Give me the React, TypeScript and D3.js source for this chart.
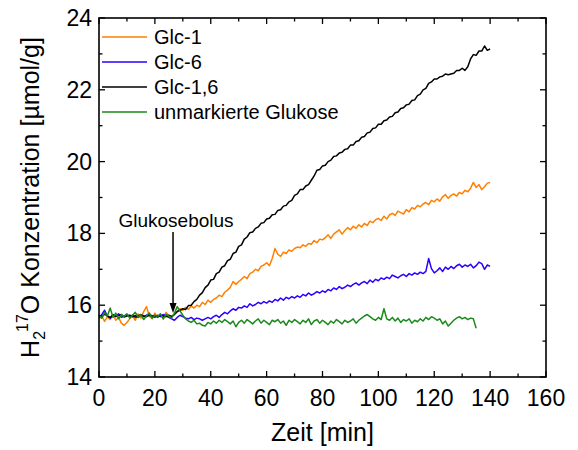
import { useMemo } from "react";
import * as d3 from "d3";

// sampling time in minutes (one value per minute)
const glc1 = [
  15.62, 15.70, 15.55, 15.68, 15.60, 15.74, 15.58, 15.66, 15.50, 15.44,
  15.52, 15.62, 15.70, 15.58, 15.76, 15.64, 15.82, 15.96, 15.70, 15.62,
  15.78, 15.66, 15.74, 15.62, 15.80, 15.70, 15.68, 15.76, 15.84, 15.90,
  15.86, 15.94, 15.88, 15.98, 15.92, 16.00, 15.96, 16.08, 16.02, 16.14,
  16.08, 16.16, 16.20, 16.28, 16.24, 16.36, 16.42, 16.50, 16.66, 16.58,
  16.66, 16.72, 16.80, 16.74, 16.88, 16.92, 17.00, 16.96, 17.08, 17.12,
  17.18, 17.10, 17.30, 17.58, 17.42, 17.36, 17.48, 17.44, 17.54, 17.50,
  17.58, 17.62, 17.60, 17.68, 17.64, 17.72, 17.70, 17.80, 17.74, 17.84,
  17.82, 17.88, 17.96, 17.86, 17.98, 18.04, 18.10, 17.98, 18.08, 18.16,
  18.10, 18.20, 18.14, 18.24, 18.18, 18.28, 18.22, 18.34, 18.30, 18.38,
  18.42, 18.36, 18.48, 18.40, 18.52, 18.56, 18.50, 18.62, 18.58, 18.54,
  18.66, 18.60, 18.72, 18.68, 18.78, 18.74, 18.82, 18.86, 18.80, 18.92,
  18.88, 18.96, 18.90, 19.02, 19.08, 18.98, 19.06, 19.10, 19.04, 19.14,
  19.10, 19.20, 19.16, 19.26, 19.42, 19.28, 19.36, 19.22, 19.30, 19.40, 19.42,
];

const glc6 = [
  15.66, 15.74, 15.86, 15.70, 15.64, 15.72, 15.68, 15.76, 15.66, 15.70,
  15.74, 15.68, 15.72, 15.66, 15.70, 15.74, 15.68, 15.72, 15.76, 15.70,
  15.66, 15.72, 15.68, 15.74, 15.70, 15.66, 15.62, 15.58, 15.66, 15.72,
  15.68, 15.64, 15.62, 15.66, 15.60, 15.64, 15.62, 15.58, 15.62, 15.66,
  15.62, 15.68, 15.72, 15.66, 15.74, 15.80, 15.76, 15.84, 15.90, 15.86,
  15.94, 15.92, 15.98, 15.94, 16.04, 15.98, 16.02, 16.08, 16.04, 16.10,
  16.06, 16.12, 16.08, 16.16, 16.12, 16.20, 16.14, 16.22, 16.18, 16.24,
  16.20, 16.26, 16.22, 16.30, 16.26, 16.34, 16.28, 16.32, 16.38, 16.34,
  16.40, 16.36, 16.44, 16.40, 16.48, 16.44, 16.52, 16.46, 16.50, 16.56,
  16.52, 16.58, 16.62, 16.56, 16.62, 16.66, 16.60, 16.70, 16.64, 16.72,
  16.68, 16.76, 16.72, 16.78, 16.74, 16.84, 16.80, 16.76, 16.82, 16.86,
  16.80, 16.88, 16.84, 16.90, 16.86, 16.92, 16.88, 16.94, 17.30, 17.02,
  16.90, 16.96, 17.04, 16.94, 17.06, 17.00, 17.08, 17.02, 17.10, 17.14,
  17.06, 17.12, 17.08, 17.14, 17.04, 17.10, 17.20, 17.16, 17.00, 17.12, 17.08,
];

const glc16 = [
  15.72, 15.68, 15.75, 15.70, 15.66, 15.73, 15.69, 15.71, 15.74, 15.67,
  15.70, 15.72, 15.68, 15.71, 15.66, 15.73, 15.70, 15.68, 15.72, 15.69,
  15.71, 15.67, 15.73, 15.70, 15.68, 15.72, 15.69, 15.74, 15.82, 15.86,
  15.90, 15.88, 15.99, 16.00, 16.10, 16.16, 16.28, 16.35, 16.49, 16.56,
  16.70, 16.72, 16.88, 16.92, 17.06, 17.10, 17.24, 17.28, 17.44, 17.48,
  17.64, 17.68, 17.84, 17.90, 18.02, 18.04, 18.14, 18.18, 18.28, 18.30,
  18.40, 18.42, 18.52, 18.53, 18.64, 18.66, 18.76, 18.78, 18.88, 18.92,
  19.06, 19.10, 19.22, 19.22, 19.32, 19.36, 19.48, 19.60, 19.76, 19.78,
  19.88, 19.90, 20.00, 20.04, 20.14, 20.16, 20.24, 20.26, 20.34, 20.36,
  20.46, 20.46, 20.56, 20.58, 20.68, 20.70, 20.80, 20.82, 20.92, 20.94,
  21.04, 21.04, 21.14, 21.16, 21.24, 21.26, 21.36, 21.38, 21.48, 21.50,
  21.58, 21.60, 21.70, 21.72, 21.84, 21.88, 22.00, 22.04, 22.18, 22.22,
  22.30, 22.30, 22.36, 22.38, 22.44, 22.42, 22.44, 22.46, 22.54, 22.54,
  22.60, 22.54, 22.64, 22.86, 22.98, 22.96, 23.08, 23.08, 23.22, 23.10, 23.14,
];

const unmarkiert = [
  15.72, 15.64, 15.80, 15.70, 15.92, 15.66, 15.78, 15.62, 15.74, 15.68,
  15.76, 15.64, 15.72, 15.80, 15.66, 15.74, 15.60, 15.70, 15.78, 15.64,
  15.72, 15.68, 15.76, 15.62, 15.74, 15.70, 15.64, 15.78, 15.96, 15.84,
  15.72, 15.62, 15.56, 15.52, 15.58, 15.48, 15.50, 15.44, 15.42, 15.52,
  15.48, 15.56, 15.50, 15.58, 15.52, 15.60, 15.54, 15.48, 15.56, 15.40,
  15.52, 15.58, 15.50, 15.60, 15.54, 15.48, 15.56, 15.62, 15.50, 15.58,
  15.52, 15.46, 15.58, 15.54, 15.60, 15.50, 15.56, 15.44, 15.58, 15.52,
  15.60, 15.54, 15.48, 15.58, 15.52, 15.62, 15.46, 15.56, 15.60, 15.50,
  15.58, 15.52, 15.46, 15.56, 15.50, 15.60, 15.54, 15.48, 15.58, 15.52,
  15.56, 15.62, 15.50, 15.58, 15.64, 15.70, 15.74, 15.68, 15.62, 15.58,
  15.66, 15.60, 15.90, 15.62, 15.58, 15.66, 15.56, 15.64, 15.52, 15.60,
  15.56, 15.62, 15.50, 15.58, 15.54, 15.62, 15.56, 15.66, 15.60, 15.68,
  15.64, 15.58, 15.62, 15.48, 15.56, 15.42, 15.50, 15.58, 15.64, 15.68,
  15.62, 15.66, 15.60, 15.64, 15.62, 15.36,
];

const seriesNames = ["Glc-1", "Glc-6", "Glc-1,6", "unmarkierte Glukose"];
const seriesColors = ["#ff8000", "#2a00ff", "#000000", "#1a8a1a"];
const seriesValues = [glc1, glc6, glc16, unmarkiert];

const xTicks = [0, 20, 40, 60, 80, 100, 120, 140, 160];
const yTicks = [14, 16, 18, 20, 22, 24];
const bolusTime = 26.5;

const font = "'Liberation Sans', Arial, sans-serif";

export default function App() {
  const W = 578, H = 450;
  const m = { left: 99, right: 32, top: 18, bottom: 73 };

  const x = d3.scaleLinear().domain([0, 160]).range([m.left, W - m.right]);
  const y = d3.scaleLinear().domain([14, 24]).range([H - m.bottom, m.top]);

  const paths = useMemo(() => seriesValues.map(vals =>
    d3.line<number>().x((_, i) => x(i)).y(v => y(v))(vals) || ""
  ), []);

  const x0 = x(0), x1 = x(160), y0 = y(14), y1 = y(24);
  const minorX = d3.range(10, 160, 20);
  const minorY = d3.range(15, 24, 2);
  const major = 6, minor = 3.5;

  const bx = x(bolusTime);

  return (
    <svg width={W} height={H} style={{ position: "absolute", left: 0, top: 0, background: "#fff" }}
      fontFamily={font}>
      {/* data */}
      {paths.map((d, i) => (
        <path key={i} d={d} fill="none" stroke={seriesColors[i]} strokeWidth={1.5} strokeLinejoin="round" />
      ))}

      {/* frame + ticks */}
      <rect x={x0} y={y1} width={x1 - x0} height={y0 - y1} fill="none" stroke="#000" strokeWidth={1.6} />
      {xTicks.map(t => (
        <g key={"xt" + t}>
          <line x1={x(t)} x2={x(t)} y1={y0} y2={y0 - major} stroke="#000" strokeWidth={1.3} />
          <line x1={x(t)} x2={x(t)} y1={y1} y2={y1 + major} stroke="#000" strokeWidth={1.3} />
          <text x={x(t)} y={406} textAnchor="middle" fontSize={23}>{t}</text>
        </g>
      ))}
      {minorX.map(t => (
        <g key={"xm" + t}>
          <line x1={x(t)} x2={x(t)} y1={y0} y2={y0 - minor} stroke="#000" strokeWidth={1.3} />
          <line x1={x(t)} x2={x(t)} y1={y1} y2={y1 + minor} stroke="#000" strokeWidth={1.3} />
        </g>
      ))}
      {yTicks.map(t => (
        <g key={"yt" + t}>
          <line x1={x0} x2={x0 + major} y1={y(t)} y2={y(t)} stroke="#000" strokeWidth={1.3} />
          <line x1={x1} x2={x1 - major} y1={y(t)} y2={y(t)} stroke="#000" strokeWidth={1.3} />
          <text x={92} y={y(t) + 8} textAnchor="end" fontSize={23}>{t}</text>
        </g>
      ))}
      {minorY.map(t => (
        <g key={"ym" + t}>
          <line x1={x0} x2={x0 + minor} y1={y(t)} y2={y(t)} stroke="#000" strokeWidth={1.3} />
          <line x1={x1} x2={x1 - minor} y1={y(t)} y2={y(t)} stroke="#000" strokeWidth={1.3} />
        </g>
      ))}

      {/* axis titles */}
      <text x={(x0 + x1) / 2} y={441} textAnchor="middle" fontSize={25}>Zeit [min]</text>
      <text transform={`translate(39, ${(y0 + y1) / 2}) rotate(-90)`} textAnchor="middle" fontSize={25}>
        H<tspan fontSize={16} dy={6}>2</tspan>
        <tspan fontSize={16} dy={-17} dx={-1}>17</tspan>
        <tspan dy={11}>O Konzentration [µmol/g]</tspan>
      </text>

      {/* legend */}
      {seriesNames.map((n, i) => (
        <g key={n} transform={`translate(0, ${37 + i * 25})`}>
          <line x1={102} x2={147} y1={0} y2={0} stroke={seriesColors[i]} strokeWidth={1.5} />
          <text x={154} y={7} fontSize={20}>{n}</text>
        </g>
      ))}

      {/* annotation */}
      <text x={176} y={227} textAnchor="middle" fontSize={19}>Glukosebolus</text>
      <line x1={bx} x2={bx} y1={232} y2={304} stroke="#000" strokeWidth={1.5} />
      <path d={`M${bx - 3.5},${303} L${bx + 3.5},${303} L${bx},${313} Z`} fill="#000" />
    </svg>
  );
}
